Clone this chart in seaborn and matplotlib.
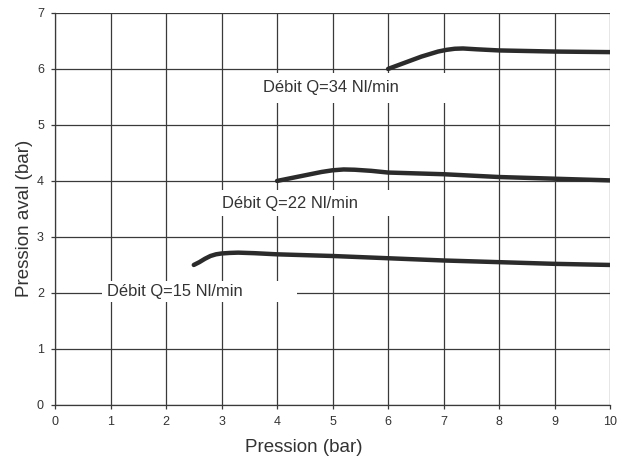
import pandas as pd
import numpy as np
import matplotlib
matplotlib.use('agg')
import matplotlib.pyplot as plt
import seaborn as sns
from matplotlib.patches import Rectangle

# values
x_q15 = [2.5, 2.6, 2.7, 2.8, 2.9, 3.0, 3.15, 3.3, 3.6, 4.0, 5.0, 6.0, 7.0, 8.0, 9.0, 10.0]
y_q15 = [2.5, 2.55, 2.61, 2.66, 2.69, 2.705, 2.715, 2.72, 2.71, 2.69, 2.66, 2.62, 2.58, 2.55, 2.52, 2.50]
x_q22 = [4.0, 4.3, 4.6, 4.8, 5.0, 5.2, 5.4, 5.7, 6.0, 7.0, 8.0, 9.0, 10.0]
y_q22 = [4.0, 4.06, 4.12, 4.16, 4.19, 4.205, 4.2, 4.18, 4.15, 4.12, 4.07, 4.04, 4.01]
x_q34 = [6.0, 6.3, 6.6, 6.9, 7.05, 7.2, 7.35, 7.6, 8.0, 9.0, 10.0]
y_q34 = [6.0, 6.11, 6.22, 6.31, 6.34, 6.36, 6.365, 6.35, 6.33, 6.31, 6.30]
labels = ['Débit Q=15 Nl/min', 'Débit Q=22 Nl/min', 'Débit Q=34 Nl/min']
label_pos = [(0.94, 2.02), (3.01, 3.59), (3.75, 5.66)]
# white boxes behind the labels: (x0, y0, width, height)
label_box = [(0.85, 1.84, 3.51, 0.37), (2.7, 3.375, 3.43, 0.465), (3.35, 5.39, 3.8, 0.54)]

frames = []
for lab, xs, ys in zip(labels, [x_q15, x_q22, x_q34], [y_q15, y_q22, y_q34]):
    frames.append(pd.DataFrame({'x': xs, 'y': ys, 'serie': lab}))
df = pd.concat(frames)

sns.set_style('white')
plt.rcParams['font.family'] = ['Liberation Sans', 'DejaVu Sans']

fig = plt.figure(figsize=(6.23, 4.61), dpi=100)
ax = fig.add_axes([0.0883, 0.1215, 0.891, 0.8505])

sns.lineplot(data=df, x='x', y='y', hue='serie', palette=['#2b2b2b'] * 3,
             linewidth=3.2, legend=False, ax=ax, zorder=3,
             solid_capstyle='round', sort=False)

ax.set_xlim(0, 10)
ax.set_ylim(0, 7)
ax.set_xticks(range(0, 11))
ax.set_yticks(range(0, 8))
ax.grid(True, color='#3a3a3a', linewidth=0.9)
ax.set_axisbelow(True)
for s in ['top', 'right']:
    ax.spines[s].set_visible(False)
for s in ['left', 'bottom']:
    ax.spines[s].set_color('#3a3a3a')
    ax.spines[s].set_linewidth(0.9)
ax.tick_params(axis='both', direction='out', length=3, width=0.9,
               color='#3a3a3a', labelsize=9, labelcolor='#333333', pad=5)
ax.tick_params(axis='both', which='both', left=True, bottom=True)

ax.set_xlabel('Pression (bar)', fontsize=13.5, color='#333333')
ax.set_ylabel('Pression aval (bar)', fontsize=13.5, color='#333333')
ax.xaxis.set_label_coords(0.448, -0.086)
ax.yaxis.set_label_coords(-0.04, 0.477)

for lab, (tx, ty), (bx, by, bw, bh) in zip(labels, label_pos, label_box):
    ax.add_patch(Rectangle((bx, by), bw, bh, facecolor='white', edgecolor='none', zorder=1.5))
    ax.text(tx, ty, lab, fontsize=11.9, color='#333333', va='center', ha='left', zorder=2)

plt.savefig('out.png', dpi=100)
plt.close(fig)
